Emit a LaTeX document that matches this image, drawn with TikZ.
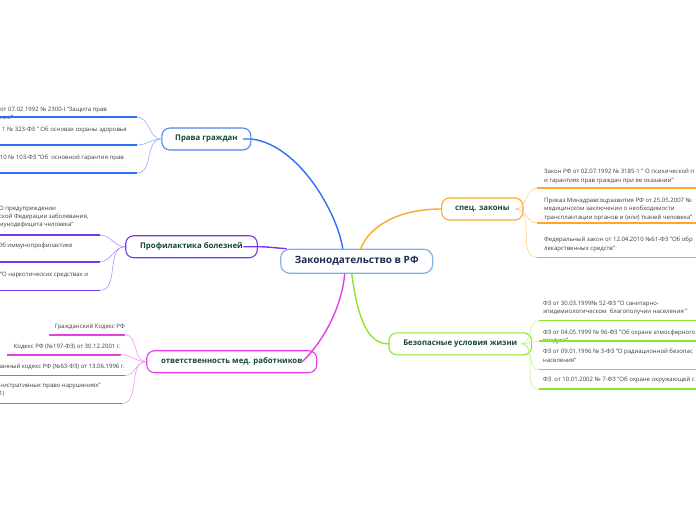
\documentclass[tikz,border=0pt]{standalone}
\usepackage{fontspec}
\setmainfont{Open Sans}
\usepackage{tikz}
\usetikzlibrary{positioning,calc}

\definecolor{rootline}{HTML}{7FB2E5}
\definecolor{roottext}{HTML}{1E2B4F}
\definecolor{branchtext}{HTML}{16473A}
\definecolor{leaftext}{HTML}{3C3C3C}
\definecolor{cblue}{HTML}{2F6EF2}
\definecolor{cpurple}{HTML}{7A35F0}
\definecolor{cmagenta}{HTML}{E53FE6}
\definecolor{corange}{HTML}{FFA62B}
\definecolor{cgreen}{HTML}{8EE52F}

\begin{document}
\begin{tikzpicture}[x=1pt, y=-1pt,
        root/.style={rectangle, draw=rootline, line width=1.2pt, fill=white, rounded corners=9pt, minimum width=152pt, minimum height=24pt, font=\fontsize{10}{12}\selectfont\bfseries, text=roottext},
        branch/.style={rectangle, draw=#1, line width=1.1pt, fill=white, rounded corners=8pt, minimum height=22pt, font=\fontsize{7.8}{9}\selectfont\bfseries, text=branchtext},
        leaf/.style={inner sep=0pt, align=left, font=\fontsize{6}{8.3}\selectfont, text=leaftext},
        link/.style={draw=#1, line width=1.4pt, line cap=round},
        twig/.style={draw=#1!55, line width=0.6pt},
        under/.style={draw=#1, line width=1.6pt}
    ]
        \useasboundingbox (0,0) rectangle (696,520);
        \clip (0,0) rectangle (696,520);

        % Nodes
        \node[root] (root) at (356.7,261.2) {Законодательство в РФ};
        \node[branch=cblue!85, minimum width=89pt] (rights) at (206.4,139) {Права граждан};
        \node[branch=cpurple, minimum width=131.6pt] (prev) at (191.5,246.7) {Профилактика болезней};
        \node[branch=cmagenta, minimum width=170pt] (resp) at (231.7,361.7) {ответственность мед. работников};
        \node[branch=corange, minimum width=81.3pt] (spec) at (482.3,209) {спец. законы};
        \node[branch=cgreen, minimum width=142.7pt] (safe) at (460.3,343.8) {Безопасные условия жизни};

        % Leaves: underline ends
        \coordinate (r1) at (137,117);
        \coordinate (r2) at (137,145);
        \coordinate (r3) at (137,173);
        \coordinate (p1) at (100,235);
        \coordinate (p2) at (100,261.7);
        \coordinate (p3) at (100,290.3);
        \coordinate (o1) at (125,334.7);
        \coordinate (o2) at (121,354.7);
        \coordinate (o3) at (125,375.5);
        \coordinate (o4) at (122,403.3);
        \coordinate (s1) at (537,188);
        \coordinate (s2) at (537,223);
        \coordinate (s3) at (537,257.5);
        \coordinate (b1) at (539,320.5);
        \coordinate (b2) at (539,341);
        \coordinate (b3) at (539,369.5);
        \coordinate (b4) at (539,389);

        % Leaves: texts
        \node[leaf, anchor=north east] (r1t) at (107,107) {от 07.02.1992 № 2300-I "Защита прав\\ния"};
        \node[leaf, anchor=north east] (r2t) at (127,126.3) {1 № 323-ФЗ " Об основах охраны здоровья};
        \node[leaf, anchor=north east] (r3t) at (124,154.5) {10 № 103-ФЗ "Об~~основной гарантия прав};
        \node[leaf, anchor=north west] (p1t) at (-1,205.5) {О предупреждении\\ской Федерации заболевания,\\мунодефицита человека"};
        \node[leaf, anchor=north east] (p2t) at (72.7,243) {Об иммунопрофилактике};
        \node[leaf, anchor=north east] (p3t) at (88.3,272) {"О наркотических средствах и};
        \node[leaf, anchor=north east] (o1t) at (125,323.5) {Гражданский Кодекс РФ};
        \node[leaf, anchor=north east] (o2t) at (121,343.5) {Кодекс РФ (№197-ФЗ) от 30.12.2001 г.};
        \node[leaf, anchor=north east] (o3t) at (125,364) {ванный кодекс РФ (№63-ФЗ) от 13.06.1996 г.};
        \node[leaf, anchor=north west] (o4t) at (-1,383) {нистративных право нарушениях"\\1)};
        \node[leaf, anchor=north west] (s1t) at (544,169) {Закон РФ от 02.07.1992 № 3185-1 " О психической п\\и гарантиях прав граждан при ее оказании"};
        \node[leaf, anchor=north west] (s2t) at (544,198) {Приказ Минздравсоцразвития РФ от 25.05.2007 №\\медицинском заключении о необходимости\\трансплантации органов и (или) тканей человека"};
        \node[leaf, anchor=north west] (s3t) at (544,237) {Федеральный закон от 12.04.2010 №61-ФЗ "Об обр\\лекарственных средств"};
        \node[leaf, anchor=north west] (b1t) at (543,301) {ФЗ от 30.03.1999№ 52-ФЗ "О санитарно-\\эпидемиологическом~~благополучии населения "};
        \node[leaf, anchor=north west] (b2t) at (543,329.5) {ФЗ от 04.05.1999 № 96-ФЗ "Об охране атмосферного\\воздуха"};
        \node[leaf, anchor=north west] (b3t) at (543,349) {ФЗ от 09.01.1996 № 3-ФЗ "О радиационной безопас\\населения"};
        \node[leaf, anchor=north west] (b4t) at (543,377) {ФЗ~~от 10.01.2002 № 7-ФЗ "Об охране окружающей с};

        % Edges
        \draw[link=cblue] ([xshift=-14pt]root.north) .. controls (338,215) and (300,145) .. (rights.east) -- ([xshift=-8pt]rights.east);
        \draw[link=cpurple] ([xshift=6pt]root.north west) .. controls (275,248) and (268,246.7) .. (prev.east) -- ([xshift=-14pt]prev.east);
        \draw[link=cmagenta] ([xshift=-12pt]root.south) .. controls (342,305) and (325,340) .. ([xshift=-15pt]resp.east);
        \draw[link=corange] ([xshift=4pt]root.north) .. controls (370,225) and (400,209) .. (spec.west);
        \draw[link=cgreen] ([xshift=-5pt]root.south) .. controls (358,320) and (368,343.8) .. (safe.west);

        \foreach \leafend in {r1,r2,r3}
            \draw[twig=cblue] (rights.west) to[out=180, in=0] (\leafend);
        \foreach \leafend in {p1,p2,p3}
            \draw[twig=cpurple] (prev.west) to[out=180, in=0] (\leafend);
        \foreach \leafend in {o1,o2,o3,o4}
            \draw[twig=cmagenta] (resp.west) to[out=180, in=0] (\leafend);
        \foreach \leafend in {s1,s2,s3}
            \draw[twig=corange] ([xshift=-8pt]spec.east) to[out=0, in=180] (\leafend);
        \foreach \leafend in {b1,b2,b3,b4}
            \draw[twig=cgreen] ([xshift=-11pt]safe.east) to[out=0, in=180] (\leafend);

        % Underlines
        \foreach \leafend in {r1,r2,r3}
            \draw[under=cblue] (\leafend) -- ++(-145,0);
        \foreach \leafend in {p1,p2,p3}
            \draw[under=cpurple] (\leafend) -- ++(-110,0);
        \draw[under=cmagenta] (o1) -- ++(-76,0);
        \draw[under=cmagenta] (o2) -- ++(-114,0);
        \draw[under=cmagenta] (o3) -- ++(-130,0);
        \draw[under=cmagenta] (o4) -- ++(-127,0);
        \foreach \leafend in {s1,s2,s3}
            \draw[under=corange] (\leafend) -- ++(165,0);
        \foreach \leafend in {b1,b2,b3,b4}
            \draw[under=cgreen] (\leafend) -- ++(165,0);
    \end{tikzpicture}
\end{document}
